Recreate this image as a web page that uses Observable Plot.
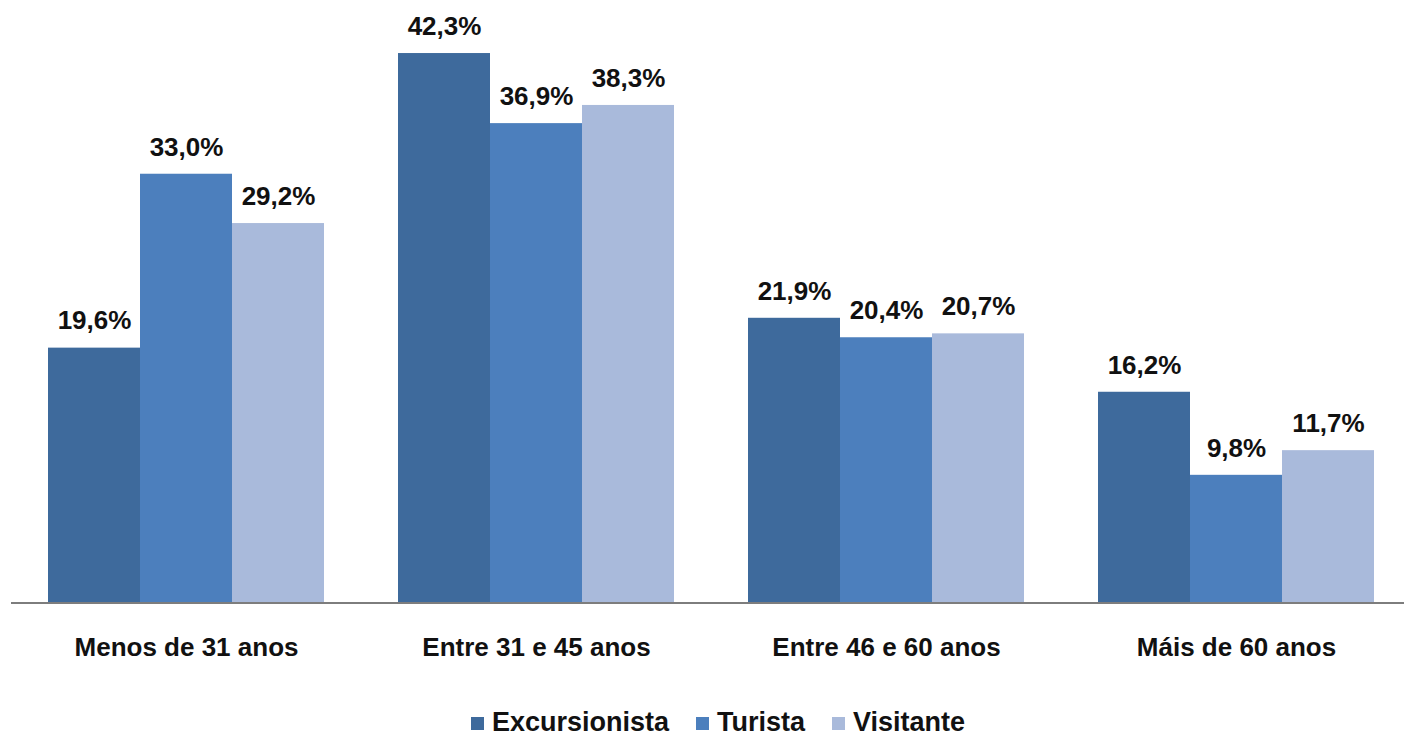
<!DOCTYPE html>
<html>
<head>
<meta charset="utf-8">
<script src="https://cdn.jsdelivr.net/npm/d3@7"></script>
<script src="https://cdn.jsdelivr.net/npm/@observablehq/plot@0.6"></script>
<style>
  html, body { margin: 0; padding: 0; background: #fff; overflow: hidden; }
  #chart { width: 1404px; height: 680px; overflow: hidden; }
  .legend { display: flex; justify-content: center; align-items: center; gap: 27px;
    font-family: "Liberation Sans", Arial, sans-serif; font-weight: bold; font-size: 27px; color: #111;
    height: 40px; margin-top: 22px; margin-left: 32px; }
  .legend span.item { display: flex; align-items: center; gap: 8px; }
  .legend span.sw { display: inline-block; width: 13px; height: 13px; margin-top: 2px; }
</style>
</head>
<body>
<div id="chart"></div>
<script>
const groups = ["Menos de 31 anos", "Entre 31 e 45 anos", "Entre 46 e 60 anos", "Máis de 60 anos"];
const series = ["Excursionista", "Turista", "Visitante"];
const excursionista = [19.6, 42.3, 21.9, 16.2];
const turista = [33.0, 36.9, 20.4, 9.8];
const visitante = [29.2, 38.3, 20.7, 11.7];
const colors = ["#3e6a9c", "#4c7fbd", "#a9badb"];

const seriesValues = [excursionista, turista, visitante];
const data = [];
groups.forEach((g, i) => series.forEach((s, j) => data.push({group: g, series: s, value: seriesValues[j][i]})));
const fmt = v => v.toFixed(1).replace(".", ",") + "%";

const chart = Plot.plot({
  width: 1412,
  height: 680,
  marginLeft: 11,
  marginRight: 0,
  marginTop: 18,
  marginBottom: 78,
  style: {fontFamily: "'Liberation Sans', Arial, sans-serif", fontSize: "26px", fontWeight: "bold", color: "#111", background: "#fff", maxWidth: "none"},
  fx: {domain: groups, paddingInner: 0.2057, paddingOuter: 0.1029, axis: "bottom", label: null, tickSize: 0, tickPadding: 35},
  x: {domain: series, padding: 0, axis: null},
  y: {domain: [0, 45], axis: null},
  color: {domain: series, range: colors},
  marks: [
    Plot.barY(data, {fx: "group", x: "series", y: "value", fill: "series"}),
    Plot.text(data, {fx: "group", x: "series", y: "value", text: d => fmt(d.value), dy: -27, fill: "#111"}),
    Plot.frame({anchor: "bottom", insetLeft: -37, insetRight: -37, stroke: "#7d7d7d", strokeWidth: 2, strokeLinecap: "butt", shapeRendering: "crispEdges"})
  ]
});
document.getElementById("chart").appendChild(chart);

const legend = document.createElement("div");
legend.className = "legend";
series.forEach((s, j) => {
  const item = document.createElement("span");
  item.className = "item";
  const sw = document.createElement("span");
  sw.className = "sw";
  sw.style.background = colors[j];
  item.appendChild(sw);
  item.appendChild(document.createTextNode(s));
  legend.appendChild(item);
});
document.body.appendChild(legend);
</script>
</body>
</html>
